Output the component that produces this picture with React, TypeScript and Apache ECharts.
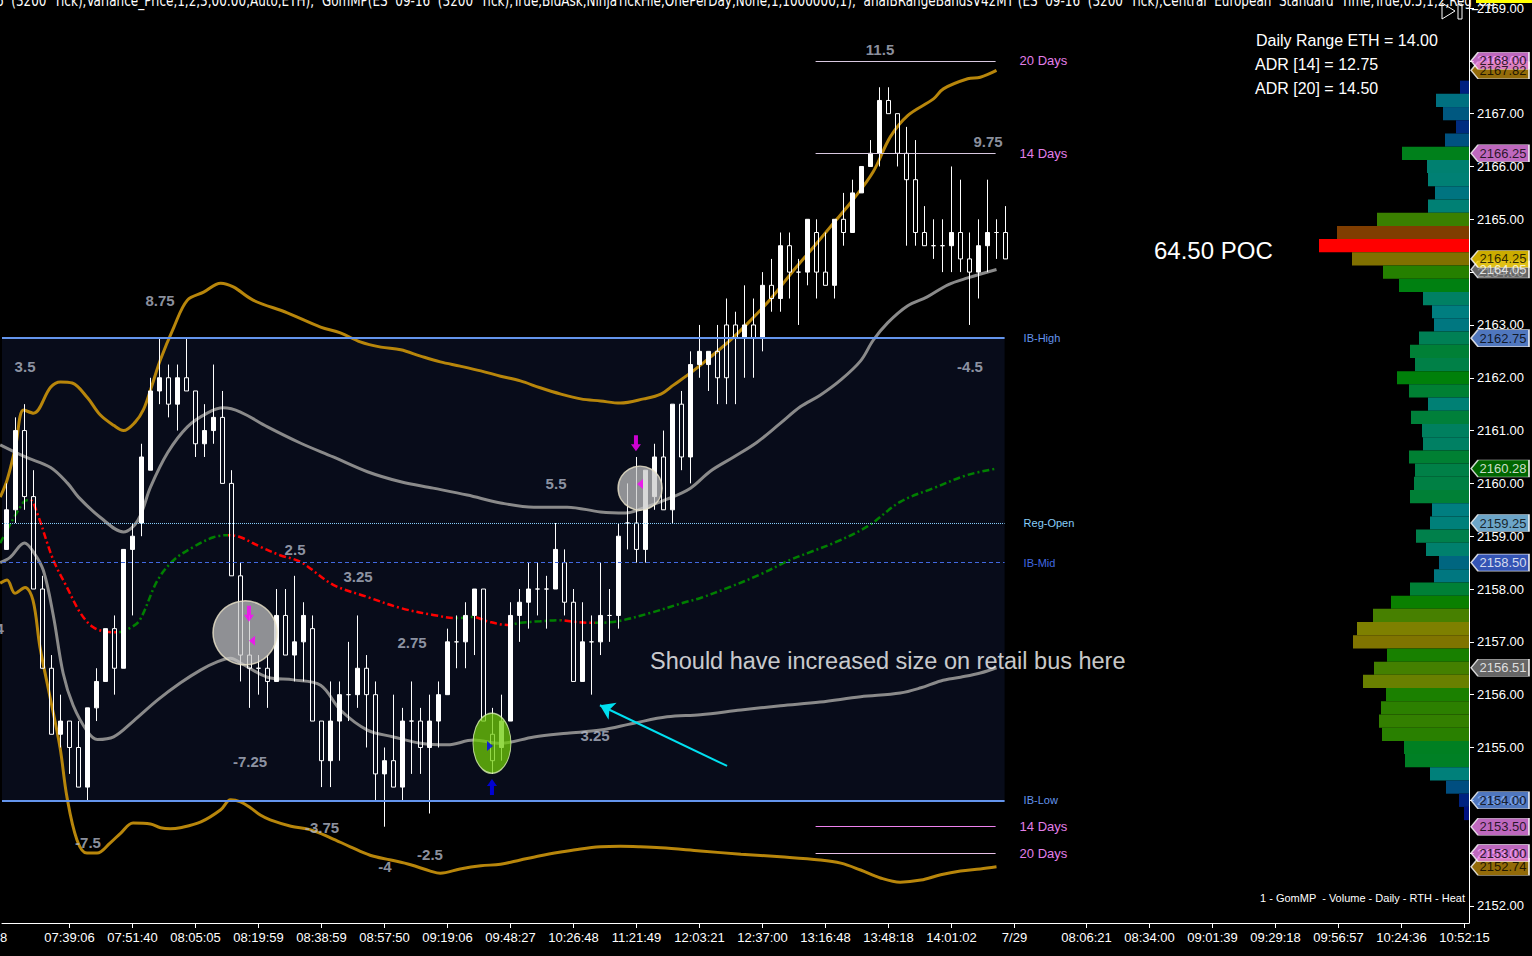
import React, { useEffect, useRef } from "react";
import * as echarts from "echarts";

const AXISFONT = "'Liberation Sans', Arial, sans-serif";
const CONDENSED = "'DejaVu Sans Condensed', 'Liberation Sans', sans-serif";
const SANS = "'Liberation Sans', Arial, sans-serif";

// ---------- axis ----------
const Y_MIN = 2151.677;
const Y_MAX = 2169.152;
const yTickValues = [2152, 2153, 2154, 2155, 2156, 2157, 2158, 2159, 2160, 2161, 2162, 2163, 2164, 2165, 2166, 2167, 2168, 2169];
const barSlots = 163;
const xTickIndex = [7, 14, 21, 28, 35, 42, 49, 56, 63, 70, 77, 84, 91, 98, 105, 112, 120, 127, 134, 141, 148, 155, 162];
const xTickLabel = ["07:39:06", "07:51:40", "08:05:05", "08:19:59", "08:38:59", "08:57:50", "09:19:06", "09:48:27", "10:26:48", "11:21:49", "12:03:21", "12:37:00", "13:16:48", "13:48:18", "14:01:02", "7/29", "08:06:21", "08:34:00", "09:01:39", "09:29:18", "09:56:57", "10:24:36", "10:52:15"];

// ---------- candles [open, close, low, high] ----------
const candleOCLH: number[][] = [
  [2158.75, 2159.5, 2158.75, 2160.0], [2159.5, 2161.0, 2159.25, 2161.25], [2161.0, 2159.75, 2159.5, 2161.5], [2159.75, 2158.0, 2158.0, 2160.25],
  [2158.0, 2156.5, 2156.5, 2158.25], [2156.5, 2155.25, 2155.25, 2156.75], [2155.25, 2155.5, 2155.0, 2156.0], [2155.5, 2155.0, 2154.5, 2155.5],
  [2155.0, 2154.25, 2154.25, 2155.5], [2154.25, 2155.75, 2154.0, 2155.75], [2155.75, 2156.25, 2155.5, 2156.5], [2156.25, 2157.25, 2156.25, 2157.25],
  [2157.25, 2156.5, 2156.0, 2157.5], [2156.5, 2158.75, 2156.5, 2158.75], [2158.75, 2159.0, 2157.5, 2159.25], [2159.25, 2160.5, 2159.0, 2160.75],
  [2160.25, 2161.75, 2160.25, 2162.0], [2161.75, 2162.0, 2161.5, 2162.75], [2162.0, 2161.5, 2161.25, 2162.25], [2161.5, 2162.0, 2161.0, 2162.25],
  [2162.0, 2161.75, 2161.75, 2162.75], [2161.75, 2160.75, 2160.5, 2161.75], [2160.75, 2161.0, 2160.5, 2161.5], [2161.0, 2161.25, 2160.75, 2162.25],
  [2161.25, 2160.0, 2160.0, 2161.75], [2160.0, 2158.25, 2158.25, 2160.25], [2158.25, 2156.75, 2156.25, 2158.5], [2156.75, 2156.5, 2155.75, 2157.5],
  [2156.5, 2156.5, 2156.0, 2156.75], [2156.5, 2156.25, 2155.75, 2156.75], [2156.25, 2157.5, 2156.25, 2158.0], [2157.5, 2156.75, 2156.75, 2158.0],
  [2156.75, 2157.0, 2156.25, 2158.25], [2157.0, 2157.5, 2156.25, 2157.75], [2157.25, 2155.5, 2155.5, 2157.5], [2155.5, 2154.75, 2154.25, 2155.5],
  [2154.75, 2155.5, 2154.25, 2156.25], [2155.5, 2156.0, 2154.75, 2156.25], [2156.0, 2156.0, 2155.5, 2157.0], [2156.0, 2156.5, 2155.75, 2157.5],
  [2156.5, 2156.0, 2155.0, 2156.75], [2156.0, 2154.5, 2154.0, 2156.25], [2154.5, 2154.75, 2153.5, 2155.0], [2154.75, 2154.25, 2154.25, 2156.0],
  [2154.25, 2155.5, 2154.0, 2155.75], [2155.5, 2155.5, 2154.5, 2156.25], [2155.5, 2155.0, 2154.5, 2155.75], [2155.0, 2155.5, 2153.75, 2156.0],
  [2155.5, 2156.0, 2155.0, 2156.25], [2156.0, 2157.0, 2156.0, 2157.25], [2157.0, 2157.0, 2156.5, 2157.5], [2157.0, 2157.5, 2156.5, 2157.75],
  [2157.5, 2158.0, 2156.75, 2158.0], [2158.0, 2155.5, 2155.5, 2158.0], [2155.25, 2154.75, 2154.5, 2155.75], [2155.0, 2155.5, 2154.75, 2156.0],
  [2155.5, 2157.5, 2155.5, 2157.75], [2157.5, 2157.75, 2157.0, 2158.0], [2157.75, 2158.0, 2157.25, 2158.5], [2158.0, 2158.0, 2157.5, 2158.5],
  [2158.0, 2158.0, 2157.25, 2158.25], [2158.0, 2158.75, 2158.0, 2159.25], [2158.5, 2157.75, 2157.5, 2158.75], [2157.75, 2156.25, 2156.25, 2158.0],
  [2156.25, 2157.0, 2156.25, 2157.75], [2157.0, 2157.0, 2156.0, 2157.5], [2157.0, 2157.5, 2156.75, 2158.5], [2157.5, 2157.5, 2157.0, 2158.0],
  [2157.5, 2159.0, 2157.25, 2159.25], [2159.25, 2159.25, 2158.75, 2160.0], [2159.25, 2158.75, 2158.5, 2160.5], [2158.75, 2160.25, 2158.5, 2160.25],
  [2159.75, 2160.5, 2159.5, 2160.75], [2160.5, 2159.5, 2159.5, 2161.0], [2159.5, 2161.5, 2159.25, 2161.5], [2161.5, 2160.5, 2160.25, 2161.75],
  [2160.5, 2162.25, 2160.0, 2162.5], [2162.25, 2162.5, 2162.0, 2163.0], [2162.25, 2162.5, 2161.75, 2162.5], [2162.5, 2162.0, 2161.5, 2163.0],
  [2163.0, 2162.0, 2161.5, 2163.5], [2163.0, 2162.75, 2161.5, 2163.25], [2162.75, 2163.0, 2162.0, 2163.75], [2163.0, 2162.75, 2162.0, 2163.5],
  [2162.75, 2163.75, 2162.5, 2164.0], [2163.75, 2163.5, 2163.25, 2164.25], [2163.5, 2164.5, 2163.25, 2164.75], [2164.5, 2164.0, 2163.5, 2164.75],
  [2164.0, 2164.0, 2163.0, 2164.25], [2164.0, 2165.0, 2163.75, 2165.0], [2164.75, 2164.0, 2163.5, 2165.0], [2164.0, 2163.75, 2163.75, 2164.75],
  [2163.75, 2165.0, 2163.5, 2165.0], [2165.0, 2164.75, 2164.5, 2165.5], [2164.75, 2165.5, 2164.75, 2165.75], [2165.5, 2166.0, 2165.5, 2166.0],
  [2166.0, 2166.25, 2166.0, 2166.5], [2166.25, 2167.25, 2166.0, 2167.5], [2167.25, 2167.0, 2167.0, 2167.5], [2167.0, 2166.25, 2166.0, 2167.0],
  [2166.25, 2165.75, 2164.5, 2166.75], [2165.75, 2164.75, 2164.5, 2166.5], [2164.75, 2164.5, 2164.5, 2165.25], [2164.5, 2164.5, 2164.25, 2165.0],
  [2164.5, 2164.5, 2164.0, 2165.0], [2164.5, 2164.75, 2164.0, 2166.0], [2164.75, 2164.25, 2164.0, 2165.75], [2164.25, 2164.0, 2163.0, 2164.75],
  [2164.0, 2164.5, 2163.5, 2165.0], [2164.5, 2164.75, 2164.0, 2165.75], [2164.75, 2164.75, 2164.25, 2165.0], [2164.75, 2164.25, 2164.25, 2165.25],
];

// ---------- bands [bar index, price] ----------
const goldUpper: number[][] = [
  [-0.7, 2159.74], [0.06, 2160.06], [1.0, 2160.69], [1.9, 2161.39], [3.0, 2161.33], [4.9, 2161.82], [6.0, 2161.92], [7.3, 2161.9], [9.0, 2161.62],
  [10.4, 2161.3], [11.9, 2161.1], [13.0, 2161.0], [14.3, 2161.16], [15.2, 2161.39], [16.0, 2161.77], [17.1, 2162.34], [18.6, 2162.96],
  [20.1, 2163.47], [21.9, 2163.62], [23.8, 2163.79], [25.2, 2163.72], [27.4, 2163.47], [31.2, 2163.23], [34.9, 2162.96], [37.1, 2162.85],
  [39.3, 2162.68], [41.6, 2162.58], [43.8, 2162.53], [46.0, 2162.41], [48.2, 2162.3], [50.4, 2162.22], [52.7, 2162.13], [54.9, 2162.03],
  [57.1, 2161.94], [59.3, 2161.81], [61.6, 2161.69], [63.8, 2161.6], [66.0, 2161.56], [68.2, 2161.52], [70.8, 2161.6], [72.7, 2161.69],
  [74.1, 2161.86], [76.3, 2162.13], [78.2, 2162.39], [80.8, 2162.77], [82.7, 2163.09], [84.9, 2163.49], [87.4, 2164.02], [89.7, 2164.48],
  [91.9, 2164.93], [94.1, 2165.38], [96.3, 2165.9], [98.2, 2166.56], [100.1, 2166.96], [103.0, 2167.28], [104.1, 2167.47], [106.8, 2167.66],
  [108.2, 2167.69], [110.0, 2167.82],
];
const goldLower: number[][] = [
  [-0.7, 2158.11], [0.06, 2158.17], [0.94, 2157.92], [2.06, 2158.03], [2.94, 2157.79], [3.72, 2156.9], [4.83, 2155.96], [5.94, 2155.01],
  [6.72, 2154.06], [7.83, 2153.25], [8.94, 2153.0], [10.06, 2153.0], [11.5, 2153.19], [12.7, 2153.38], [14.06, 2153.57],
  [16.0, 2153.55], [17.1, 2153.48], [18.2, 2153.46], [19.3, 2153.48], [21.6, 2153.59], [23.8, 2153.82], [24.9, 2154.01],
  [26.0, 2153.97], [27.1, 2153.86], [28.2, 2153.72], [29.3, 2153.63], [31.6, 2153.51], [33.8, 2153.44], [36.0, 2153.29], [38.2, 2153.12],
  [40.4, 2152.96], [42.7, 2152.87], [44.9, 2152.78], [47.1, 2152.66], [48.2, 2152.62], [50.4, 2152.7], [52.7, 2152.76], [54.9, 2152.79],
  [57.1, 2152.87], [59.3, 2152.95], [61.6, 2153.02], [63.8, 2153.08], [66.0, 2153.12], [68.2, 2153.13], [70.4, 2153.12], [72.7, 2153.1],
  [77.1, 2153.04], [81.6, 2152.98], [86.0, 2152.93], [90.4, 2152.87], [92.7, 2152.81], [94.9, 2152.68], [97.1, 2152.53], [99.3, 2152.45],
  [101.6, 2152.49], [103.8, 2152.59], [106.0, 2152.66], [108.2, 2152.7], [110.0, 2152.74],
];
const grayUpper: number[][] = [
  [-0.7, 2160.73], [2.1, 2160.5], [4.9, 2160.3], [6.8, 2160.0], [8.0, 2159.74], [10.4, 2159.36], [13.0, 2159.08], [14.6, 2159.3],
  [16.0, 2159.93], [17.9, 2160.58], [20.1, 2161.07], [22.3, 2161.33], [24.1, 2161.43], [26.0, 2161.35], [29.0, 2161.07], [32.7, 2160.76],
  [36.3, 2160.5], [40.1, 2160.22], [43.8, 2160.03], [47.4, 2159.91], [51.2, 2159.78], [54.9, 2159.63], [58.6, 2159.55], [62.3, 2159.55],
  [66.0, 2159.46], [68.8, 2159.44], [70.4, 2159.51], [73.4, 2159.7], [76.0, 2159.91], [78.2, 2160.23], [80.8, 2160.5], [83.4, 2160.78],
  [86.0, 2161.14], [88.2, 2161.45], [90.4, 2161.67], [92.7, 2161.96], [94.9, 2162.32], [96.3, 2162.71], [97.9, 2163.04], [100.1, 2163.36],
  [102.3, 2163.53], [104.6, 2163.76], [106.8, 2163.89], [110.0, 2164.05],
];
const grayLower: number[][] = [
  [-0.7, 2158.5], [0.4, 2158.6], [2.0, 2158.87], [3.0, 2158.7], [4.1, 2158.35], [5.2, 2157.5], [6.3, 2156.4], [7.4, 2155.8],
  [9.0, 2155.3], [10.1, 2155.15], [11.9, 2155.2], [14.1, 2155.5], [16.8, 2155.9], [19.3, 2156.22], [21.6, 2156.47], [23.4, 2156.62],
  [24.9, 2156.69], [26.0, 2156.6], [29.0, 2156.33], [31.9, 2156.28], [34.9, 2156.18], [37.1, 2155.71], [40.1, 2155.33], [43.0, 2155.2],
  [46.0, 2155.08], [49.0, 2155.05], [51.9, 2155.14], [54.9, 2155.08], [58.6, 2155.2], [62.3, 2155.27], [66.0, 2155.33], [69.7, 2155.46],
  [73.4, 2155.58], [77.1, 2155.62], [81.6, 2155.71], [86.0, 2155.79], [90.4, 2155.86], [94.9, 2155.96], [99.3, 2156.03], [101.6, 2156.13],
  [103.8, 2156.26], [106.0, 2156.33], [108.2, 2156.41], [110.0, 2156.51],
];
const midLine: number[][] = [
  [-0.7, 2158.87], [1.9, 2159.65], [2.6, 2159.69], [3.4, 2159.44], [5.2, 2158.55], [6.7, 2158.04], [8.2, 2157.55], [9.6, 2157.28],
  [11.1, 2157.19], [12.3, 2157.18], [13.7, 2157.26], [14.8, 2157.41], [16.8, 2158.17], [18.6, 2158.55], [20.8, 2158.8], [23.0, 2158.98],
  [24.6, 2159.02], [26.0, 2158.98], [28.2, 2158.8], [30.4, 2158.64], [32.7, 2158.51], [36.3, 2158.08], [40.1, 2157.85], [43.8, 2157.64],
  [47.4, 2157.51], [50.1, 2157.45], [51.9, 2157.47], [53.4, 2157.39], [55.7, 2157.32], [57.1, 2157.36], [59.3, 2157.39], [61.6, 2157.41],
  [63.0, 2157.38], [65.4, 2157.36], [67.9, 2157.39], [71.6, 2157.55], [75.2, 2157.74], [77.1, 2157.83], [80.4, 2158.04], [83.8, 2158.28],
  [86.8, 2158.53], [89.3, 2158.7], [91.9, 2158.87], [95.7, 2159.19], [99.3, 2159.65], [103.0, 2159.91], [106.8, 2160.16], [110.0, 2160.28],
];

// ---------- levels ----------
const ibHigh = 2162.75;
const ibLow = 2154.0;
const regOpen = 2159.25;
const ibMid = 2158.5;
const ibEndBar = 110.9;
const adrLevels = [2168.0, 2166.25, 2153.5, 2153.0];
const adrNames = ["20 Days", "14 Days", "14 Days", "20 Days"];
const adrLineColors = ["#d8c8e0", "#d8c8e0", "#ee82ee", "#e8c0e8"];
const adrStartBar = 89.9;
const adrEndBar = 109.9;

// ---------- swing labels ----------
const swingText = ["3.5", "8.75", "4", "-7.5", "2.5", "3.25", "2.75", "-7.25", "-3.75", "-4", "-2.5", "5.5", "3.25", "-4.5", "11.5", "9.75"];
const swingBar = [2.06, 17.06, -0.75, 9.06, 32.06, 39.06, 45.06, 27.06, 35.06, 42.06, 47.06, 61.06, 65.39, 107.06, 97.06, 109.06];
const swingPrice = [2162.22, 2163.47, 2157.26, 2153.21, 2158.74, 2158.23, 2156.98, 2154.74, 2153.49, 2152.74, 2152.98, 2159.99, 2155.22, 2162.22, 2168.22, 2166.48];

// ---------- volume profile ----------
const profilePrices = [
  2167.5, 2167.25, 2167.0, 2166.75, 2166.5, 2166.25, 2166.0, 2165.75, 2165.5, 2165.25, 2165.0, 2164.75, 2164.5, 2164.25,
  2164.0, 2163.75, 2163.5, 2163.25, 2163.0, 2162.75, 2162.5, 2162.25, 2162.0, 2161.75, 2161.5, 2161.25, 2161.0, 2160.75,
  2160.5, 2160.25, 2160.0, 2159.75, 2159.5, 2159.25, 2159.0, 2158.75, 2158.5, 2158.25, 2158.0, 2157.75, 2157.5, 2157.25,
  2157.0, 2156.75, 2156.5, 2156.25, 2156.0, 2155.75, 2155.5, 2155.25, 2155.0, 2154.75, 2154.5, 2154.25, 2154.0, 2153.75,
];
const profileVolume = [
  90, 330, 260, 130, 240, 670, 420, 410, 340, 410, 920, 1320, 1500, 1170,
  860, 700, 460, 370, 350, 500, 590, 540, 720, 600, 410, 580, 470, 460,
  600, 540, 550, 590, 370, 390, 530, 430, 300, 350, 590, 780, 960, 1120,
  1160, 820, 950, 1060, 830, 880, 900, 870, 650, 640, 390, 230, 100, 50,
];

// ---------- right axis price markers ----------
const markerPrices = [2167.82, 2168.0, 2166.25, 2164.05, 2164.25, 2162.75, 2160.28, 2159.25, 2158.5, 2156.51, 2154.0, 2153.5, 2152.74, 2153.0];
const markerFill = ["#b8860b", "#ee82ee", "#ee82ee", "#808080", "#ffd700", "#6495ed", "#008000", "#87cefa", "#4169e1", "#808080", "#6495ed", "#ee82ee", "#b8860b", "#ee82ee"];
const markerInk = ["#000", "#000", "#000", "#fff", "#000", "#000", "#fff", "#000", "#fff", "#fff", "#000", "#000", "#000", "#000"];

// ---------- signals ----------
const circleBars = [26.5, 70.4];
const circlePrices = [2157.17, 2159.91];
const circleSizes = [64, 44];
const ellipseBar = 53.94;
const ellipsePrice = 2155.08;
const downArrowBars = [26.94, 69.94];
const downArrowPrices = [2157.53, 2160.76];
const upArrowBar = 53.94;
const upArrowPrice = 2154.25;
const leftTriBars = [27.28, 70.39];
const leftTriPrices = [2157.02, 2159.99];
const rightTriBar = 53.72;
const rightTriPrice = 2155.03;
const noteArrowFrom = [80.06, 2154.65];
const noteArrowTo = [65.94, 2155.8];
const noteAnchor = [71.5, 2156.64];

const RED = "#ff0000";
const GREEN = "#008000";

function hslToHex(h: number, s: number, l: number) {
  const a = s * Math.min(l, 1 - l);
  const f = (n: number) => {
    const k = (n + h / 30) % 12;
    const c = l - a * Math.max(-1, Math.min(k - 3, 9 - k, 1));
    return Math.round(c * 255).toString(16).padStart(2, "0");
  };
  return "#" + f(0) + f(8) + f(4);
}

function slopePieces(pts: number[][]) {
  const pieces: any[] = [];
  let start: number | null = null;
  let cur: boolean | null = null;
  for (let k = 0; k < pts.length - 1; k++) {
    const up = pts[k + 1][1] >= pts[k][1];
    if (cur === null) cur = up;
    else if (up !== cur) {
      const p: any = { lt: pts[k][0], color: cur ? GREEN : RED };
      if (start !== null) p.gte = start;
      pieces.push(p);
      start = pts[k][0];
      cur = up;
    }
  }
  pieces.push({ gte: start, color: cur ? GREEN : RED });
  return pieces;
}

function buildOption() {
  const cats = Array.from({ length: barSlots }, (_, i) => String(i));
  const labelOf: Record<number, string> = {};
  xTickIndex.forEach((ix, k) => (labelOf[ix] = xTickLabel[k]));
  const maxVol = Math.max(...profileVolume);

  const band = (data: number[][], color: string) => ({
    type: "line",
    xAxisIndex: 1,
    yAxisIndex: 0,
    data,
    smooth: 0.35,
    symbol: "none",
    silent: true,
    z: 2,
    lineStyle: { color, width: 3 },
  });

  const levelLine = (price: number, name: string, color: string, width: number, type: any) => [
    { coord: [-0.5, price], name, lineStyle: { color, width, type }, label: { color } },
    { coord: [ibEndBar, price] },
  ];

  const series: any[] = [
    {
      type: "line",
      xAxisIndex: 1,
      yAxisIndex: 0,
      data: [[-5, 2160]],
      symbol: "none",
      silent: true,
      z: 1,
      markArea: {
        silent: true,
        itemStyle: { color: "#080c1a" },
        data: [[{ coord: [-0.5, ibHigh] }, { coord: [ibEndBar, ibLow] }]],
      },
      markLine: {
        silent: true,
        symbol: ["none", "none"],
        label: { show: true, position: "end", formatter: "{b}", fontSize: 11, fontFamily: SANS, distance: 19 },
        data: [
          levelLine(ibHigh, "IB-High", "#6495ed", 2, "solid"),
          levelLine(regOpen, "Reg-Open", "#87cefa", 1, "dotted"),
          levelLine(ibMid, "IB-Mid", "#4169e1", 1, [4, 3]),
          levelLine(ibLow, "IB-Low", "#6495ed", 2, "solid"),
          ...adrLevels.map((p, k) => [
            {
              coord: [adrStartBar, p],
              name: adrNames[k],
              lineStyle: { color: adrLineColors[k], width: 1, type: "solid" },
              label: { color: "#e27fe8", fontSize: 13, distance: 24 },
            },
            { coord: [adrEndBar, p] },
          ]),
        ],
      },
    },
    band(goldUpper, "#b8860b"),
    band(goldLower, "#b8860b"),
    band(grayUpper, "#8a8a8a"),
    band(grayLower, "#8a8a8a"),
    {
      id: "mid",
      type: "line",
      xAxisIndex: 1,
      yAxisIndex: 0,
      data: midLine,
      smooth: 0.35,
      symbol: "none",
      silent: true,
      z: 2,
      lineStyle: { width: 2.5, type: [7, 3, 2, 3] },
    },
    {
      type: "candlestick",
      xAxisIndex: 0,
      yAxisIndex: 0,
      data: candleOCLH,
      barWidth: 5,
      silent: true,
      z: 3,
      itemStyle: {
        color: "#ffffff",
        color0: "rgba(0,0,0,0)",
        borderColor: "#ffffff",
        borderColor0: "#ffffff",
        borderWidth: 1,
      },
    },
    {
      type: "scatter",
      xAxisIndex: 1,
      yAxisIndex: 0,
      silent: true,
      z: 4,
      symbol: "circle",
      data: [
        ...circleBars.map((b, k) => ({
          value: [b, circlePrices[k]],
          symbolSize: circleSizes[k],
          itemStyle: { color: "rgba(200,200,200,0.88)", borderColor: "#eee6cc", borderWidth: 1.5 },
        })),
        {
          value: [ellipseBar, ellipsePrice],
          symbolSize: [38, 60],
          itemStyle: { color: "rgba(112,204,8,0.93)", borderColor: "#d8f0b0", borderWidth: 1.2 },
        },
      ],
    },
    {
      type: "scatter",
      xAxisIndex: 1,
      yAxisIndex: 0,
      silent: true,
      z: 5,
      data: [
        ...downArrowBars.map((b, k) => ({
          value: [b, downArrowPrices[k]],
          symbol: "path://M3,0 L7,0 L7,9 L10,9 L5,16 L0,9 L3,9 Z",
          symbolSize: [10, 16],
          itemStyle: { color: "#ff00ff" },
        })),
        {
          value: [upArrowBar, upArrowPrice],
          symbol: "path://M5,0 L10,7 L7,7 L7,16 L3,16 L3,7 L0,7 Z",
          symbolSize: [10, 16],
          itemStyle: { color: "#0000ff" },
        },
        ...leftTriBars.map((b, k) => ({
          value: [b, leftTriPrices[k]],
          symbol: "path://M0,5 L6,0 L6,10 Z",
          symbolSize: [6, 10],
          itemStyle: { color: "#ff00ff" },
        })),
        {
          value: [rightTriBar, rightTriPrice],
          symbol: "path://M0,0 L6,5 L0,10 Z",
          symbolSize: [6, 10],
          itemStyle: { color: "#0000ff" },
        },
      ],
    },
    {
      type: "scatter",
      xAxisIndex: 1,
      yAxisIndex: 0,
      silent: true,
      z: 5,
      clip: false,
      symbolSize: 1,
      itemStyle: { color: "rgba(0,0,0,0)" },
      label: {
        show: true,
        position: "inside",
        formatter: "{b}",
        color: "#b2b8c8",
        fontSize: 15,
        fontWeight: "bold",
        fontFamily: SANS,
      },
      data: swingText.map((t, k) => ({ name: t, value: [swingBar[k], swingPrice[k]] })),
    },
    {
      type: "scatter",
      xAxisIndex: 1,
      yAxisIndex: 0,
      silent: true,
      z: 6,
      symbolSize: 1,
      itemStyle: { color: "rgba(0,0,0,0)" },
      label: {
        show: true,
        position: "inside",
        align: "left",
        formatter: "Should have increased size on retail bus here",
        color: "#ffffff",
        fontSize: 23.5,
        fontFamily: SANS,
      },
      data: [noteAnchor],
      markLine: {
        silent: true,
        symbol: ["none", "arrow"],
        symbolSize: 14,
        label: { show: false },
        lineStyle: { color: "#00e0f0", width: 2, type: "solid" },
        data: [[{ coord: noteArrowFrom }, { coord: noteArrowTo }]],
      },
    },
    {
      type: "custom",
      xAxisIndex: 2,
      yAxisIndex: 1,
      silent: true,
      z: 2,
      data: profilePrices.map((p, k) => [profileVolume[k], p]),
      encode: { x: 0, y: 1 },
      renderItem: (params: any, api: any) => {
        const vol = api.value(0);
        const price = api.value(1);
        const a = api.coord([vol, price]);
        const b = api.coord([0, price]);
        const h = api.size([0, 0.25])[1];
        const r = vol / maxVol;
        const fill = vol === maxVol ? "#ff0000" : hslToHex(240 * (1 - r), 1, 0.25);
        return {
          type: "rect",
          shape: { x: a[0], y: a[1] - h / 2, width: b[0] - a[0], height: h },
          style: { fill },
        };
      },
    },
    {
      type: "scatter",
      xAxisIndex: 1,
      yAxisIndex: 0,
      silent: true,
      clip: false,
      z: 8,
      symbol: "path://M0,8.5 L7,0 L58,0 L58,17 L7,17 Z",
      symbolSize: [58, 17],
      symbolOffset: [31, 0],
      data: markerPrices.map((p, k) => ({
        value: [162.5, p],
        itemStyle: { color: markerFill[k], borderColor: "#ffffff", borderWidth: 1 },
        label: {
          show: true,
          position: "inside",
          offset: [3, 0],
          formatter: p.toFixed(2),
          color: markerInk[k],
          fontSize: 13,
          fontFamily: AXISFONT,
        },
      })),
    },
  ];

  const midIndex = series.findIndex((s) => s.id === "mid");

  return {
    backgroundColor: "#000000",
    animation: false,
    visualMap: [
      {
        type: "piecewise",
        show: false,
        dimension: 0,
        seriesIndex: midIndex,
        pieces: slopePieces(midLine),
      },
    ],
    grid: [
      { left: 2, right: 63, top: 0, bottom: 33 },
      { left: 1269, right: 63, top: 0, bottom: 33 },
    ],
    xAxis: [
      {
        type: "category",
        gridIndex: 0,
        data: cats,
        boundaryGap: true,
        axisLine: { show: true, onZero: false, lineStyle: { color: "#ffffff", width: 1 } },
        axisTick: {
          show: true,
          alignWithLabel: true,
          length: 5,
          interval: (i: number) => labelOf[i] !== undefined,
          lineStyle: { color: "#ffffff" },
        },
        axisLabel: {
          interval: (i: number) => labelOf[i] !== undefined,
          formatter: (_v: string, i: number) => labelOf[i] ?? "",
          color: "#ffffff",
          fontSize: 13,
          fontFamily: AXISFONT,
          margin: 8,
        },
        splitLine: { show: false },
      },
      { type: "value", gridIndex: 0, min: -0.5, max: barSlots - 0.5, show: false },
      { type: "value", gridIndex: 1, min: 0, max: 2000, inverse: true, show: false },
    ],
    yAxis: [
      {
        type: "value",
        gridIndex: 0,
        position: "right",
        min: Y_MIN,
        max: Y_MAX,
        axisLine: { show: true, onZero: false, lineStyle: { color: "#ffffff", width: 1 } },
        axisTick: { show: true, length: 5, customValues: yTickValues, lineStyle: { color: "#ffffff" } },
        axisLabel: {
          customValues: yTickValues,
          formatter: (v: number) => v.toFixed(2),
          color: "#ffffff",
          fontSize: 13,
          fontFamily: AXISFONT,
          margin: 8,
        },
        splitLine: { show: false },
      },
      { type: "value", gridIndex: 1, min: Y_MIN, max: Y_MAX, show: false },
    ],
    graphic: [
      {
        type: "text",
        x: -4,
        y: -8,
        scaleX: 0.835,
        silent: true,
        style: {
          text: "6  (3200  Tick),Variance_Price,1,2,3,00:00,Auto,ETH);  GomMP(ES  09-16  (3200  Tick),True,BidAsk,NinjaTickFile,OnePerDay,None,1,1000000,1);  anaIBRangeBandsV42MT (ES  09-16  (3200  Tick),Central  European  Standard  Time,True,0.5,1,2,Reg_Op",
          fill: "#ffffff",
          fontSize: 16,
          fontFamily: CONDENSED,
          textVerticalAlign: "top",
        },
      },
      { type: "polygon", silent: true, shape: { points: [[1442, 3], [1455, 11], [1442, 19]] }, style: { fill: "none", stroke: "#ffffff", lineWidth: 1 } },
      { type: "rect", silent: true, shape: { x: 1458, y: 4, width: 4, height: 15 }, style: { fill: "none", stroke: "#ffffff", lineWidth: 1 } },
      { type: "rect", silent: true, shape: { x: 1476, y: 0, width: 56, height: 3 }, style: { fill: "#ffff00" } },
      {
        type: "text",
        x: 1256,
        y: 40,
        silent: true,
        style: { text: "Daily Range ETH = 14.00", fill: "#ffffff", fontSize: 16, fontFamily: SANS, textVerticalAlign: "middle" },
      },
      {
        type: "text",
        x: 1255,
        y: 64,
        silent: true,
        style: { text: "ADR [14] = 12.75", fill: "#ffffff", fontSize: 16, fontFamily: SANS, textVerticalAlign: "middle" },
      },
      {
        type: "text",
        x: 1255,
        y: 88,
        silent: true,
        style: { text: "ADR [20] = 14.50", fill: "#ffffff", fontSize: 16, fontFamily: SANS, textVerticalAlign: "middle" },
      },
      {
        type: "text",
        x: 1154,
        y: 250,
        silent: true,
        style: { text: "64.50 POC", fill: "#ffffff", fontSize: 24, fontFamily: SANS, textVerticalAlign: "middle" },
      },
      {
        type: "text",
        x: 1465,
        y: 898,
        silent: true,
        style: {
          text: "1 - GomMP  - Volume - Daily - RTH - Heat",
          fill: "#ffffff",
          fontSize: 11,
          fontFamily: SANS,
          textAlign: "right",
          textVerticalAlign: "middle",
        },
      },
      {
        type: "text",
        x: 0,
        y: 937,
        silent: true,
        style: { text: "8", fill: "#ffffff", fontSize: 13, fontFamily: AXISFONT, textVerticalAlign: "middle" },
      },
    ],
    series,
  };
}

export default function App() {
  const ref = useRef<HTMLDivElement>(null);
  useEffect(() => {
    if (!ref.current) return;
    const chart = echarts.init(ref.current, null, { renderer: "svg" });
    chart.setOption(buildOption() as any);
    return () => chart.dispose();
  }, []);
  return (
    <div
      ref={ref}
      style={{ position: "fixed", left: 0, top: 0, width: 1532, height: 956, background: "#000000" }}
    />
  );
}
